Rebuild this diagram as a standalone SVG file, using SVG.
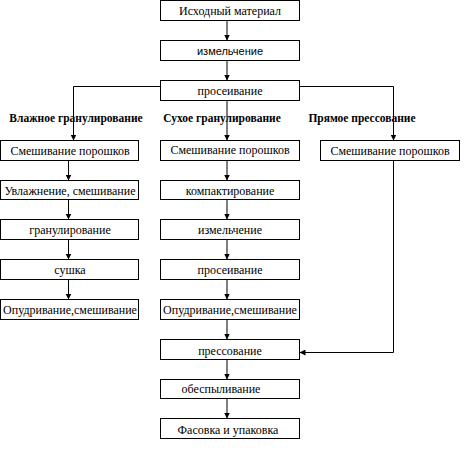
<svg xmlns="http://www.w3.org/2000/svg" width="468" height="450" viewBox="0 0 468 450">
<defs>
<marker id="ah" markerUnits="userSpaceOnUse" markerWidth="6" markerHeight="6" refX="6" refY="3" orient="auto">
<path d="M0,0 L6,3 L0,6 z" fill="#000"/>
</marker>
<style>
rect{fill:#fff;stroke:#000;stroke-width:1}
text{font-family:"Liberation Serif","Times New Roman",serif;font-size:12px;fill:#000;text-anchor:middle}
.sans{font-family:"Liberation Sans",Arial,sans-serif;font-size:11px}
.hdr{font-weight:bold;font-size:11.5px}
#connectors line,#connectors path{stroke:#000;stroke-width:1;fill:none}
</style>
</defs>
<rect x="0" y="0" width="468" height="450" style="fill:#fff;stroke:none"/>
<g id="connectors">
<line x1="227" y1="20.5" x2="227" y2="40.5" marker-end="url(#ah)"/>
<line x1="227" y1="60.5" x2="227" y2="80.5" marker-end="url(#ah)"/>
<line x1="227" y1="100.5" x2="227" y2="140.5" marker-end="url(#ah)"/>
<path d="M160.5,86.5 H73.5 V140.5" marker-end="url(#ah)"/>
<path d="M299.5,86.5 H393.5 V140.5" marker-end="url(#ah)"/>
<line x1="68.5" y1="160.5" x2="68.5" y2="180.5" marker-end="url(#ah)"/>
<line x1="68.5" y1="199.5" x2="68.5" y2="219.5" marker-end="url(#ah)"/>
<line x1="68.5" y1="239.5" x2="68.5" y2="259.5" marker-end="url(#ah)"/>
<line x1="68.5" y1="279.5" x2="68.5" y2="299.5" marker-end="url(#ah)"/>
<line x1="227" y1="160.5" x2="227" y2="180.5" marker-end="url(#ah)"/>
<line x1="227" y1="199.5" x2="227" y2="219.5" marker-end="url(#ah)"/>
<line x1="227" y1="239.5" x2="227" y2="259.5" marker-end="url(#ah)"/>
<line x1="227" y1="279.5" x2="227" y2="299.5" marker-end="url(#ah)"/>
<line x1="227" y1="319.5" x2="227" y2="339.5" marker-end="url(#ah)"/>
<path d="M393.5,160.5 V352.5 H299.5" marker-end="url(#ah)"/>
<line x1="227" y1="359.5" x2="227" y2="379.5" marker-end="url(#ah)"/>
<line x1="227" y1="398.5" x2="227" y2="418.5" marker-end="url(#ah)"/>
</g>
<g id="labels">
<text class="hdr" x="76" y="122">Влажное гранулирование</text>
<text class="hdr" x="222" y="122">Сухое гранулирование</text>
<text class="hdr" x="362" y="122">Прямое прессование</text>
</g>
<g id="n1"><rect x="160.5" y="0.5" width="139" height="20"/><text x="230" y="15">Исходный материал</text></g>
<g id="n2"><rect x="160.5" y="40.5" width="139" height="20"/><text class="sans" x="230" y="55">измельчение</text></g>
<g id="n3"><rect x="160.5" y="80.5" width="139" height="20"/><text x="230" y="95">просеивание</text></g>
<g id="w1"><rect x="0.5" y="140.5" width="138" height="20"/><text x="70" y="155">Смешивание порошков</text></g>
<g id="w2"><rect x="0.5" y="180.5" width="138" height="19"/><text x="70" y="194.5">Увлажнение, смешивание</text></g>
<g id="w3"><rect x="0.5" y="219.5" width="138" height="20"/><text x="70" y="234">гранулирование</text></g>
<g id="w4"><rect x="0.5" y="259.5" width="138" height="20"/><text x="70" y="274">сушка</text></g>
<g id="w5"><rect x="0.5" y="299.5" width="138" height="20"/><text x="70" y="314">Опудривание,смешивание</text></g>
<g id="d1"><rect x="160.5" y="140.5" width="139" height="20"/><text x="230" y="154">Смешивание порошков</text></g>
<g id="d2"><rect x="160.5" y="180.5" width="139" height="19"/><text x="230" y="194.5">компактирование</text></g>
<g id="d3"><rect x="160.5" y="219.5" width="139" height="20"/><text x="230" y="234">измельчение</text></g>
<g id="d4"><rect x="160.5" y="259.5" width="139" height="20"/><text x="230" y="274">просеивание</text></g>
<g id="d5"><rect x="160.5" y="299.5" width="139" height="20"/><text x="230" y="314">Опудривание,смешивание</text></g>
<g id="p1"><rect x="320.5" y="140.5" width="139" height="20"/><text x="390" y="155">Смешивание порошков</text></g>
<g id="c1"><rect x="160.5" y="339.5" width="139" height="20"/><text x="230" y="355">прессование</text></g>
<g id="c2"><rect x="160.5" y="379.5" width="139" height="19"/><text x="221" y="393">обеспыливание</text></g>
<g id="c3"><rect x="160.5" y="418.5" width="139" height="20"/><text x="228" y="434">Фасовка и упаковка</text></g>
</svg>
